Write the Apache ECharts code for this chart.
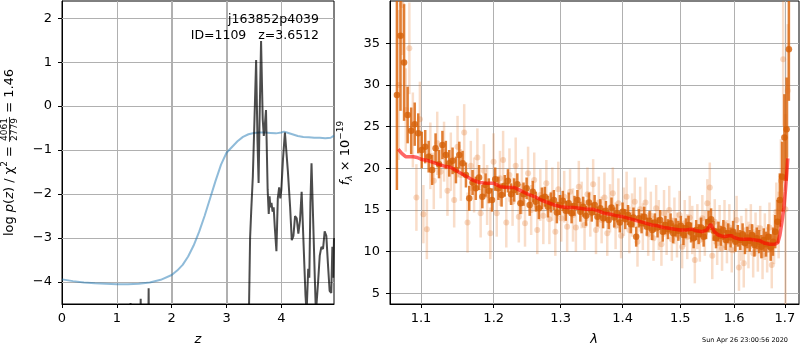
<!DOCTYPE html>
<html>
<head>
<meta charset="utf-8">
<script src="https://cdn.jsdelivr.net/npm/echarts@6/dist/echarts.min.js"></script>
<style>
  html, body { margin: 0; padding: 0; background: #fff; }
  #chart { width: 800px; height: 350px; }
</style>
</head>
<body>
<div id="chart"></div>
<script>
// ---------- left panel: redshift probability ----------
const zTicks = [0, 1, 2, 3, 4];
const logpTicks = [-4, -3, -2, -1, 0, 1, 2];
const Z_RANGE = [0, 4.96];
const LOGP_RANGE = [-4.5, 2.39];

// smooth prior-like curve (blue)
const zBlue = [0, 0.2, 0.4, 0.6, 0.8, 1.0, 1.2, 1.4, 1.6, 1.8,
               2.0, 2.1, 2.2, 2.3, 2.4, 2.5, 2.6, 2.7, 2.8, 2.9,
               3.0, 3.1, 3.2, 3.3, 3.4, 3.5, 3.6, 3.7, 3.8, 3.9,
               4.0, 4.05, 4.1, 4.2, 4.3, 4.4, 4.5, 4.6, 4.7, 4.8,
               4.9, 4.96];
const logpBlue = [-3.94, -3.98, -4.01, -4.03, -4.04, -4.05, -4.05, -4.04, -4.01, -3.95,
                  -3.84, -3.74, -3.61, -3.42, -3.17, -2.86, -2.50, -2.10, -1.70, -1.33,
                  -1.06, -0.93, -0.80, -0.70, -0.64, -0.61, -0.60, -0.60, -0.61, -0.62,
                  -0.60, -0.58, -0.60, -0.64, -0.68, -0.70, -0.71, -0.72, -0.72, -0.73,
                  -0.72, -0.67];

// log p(z) from the fit (black)
const zBlack = [0, 1.22, 1.25, 1.27, 1.41, 1.435, 1.455, 1.56, 1.58, 1.595,
                3.39, 3.41, 3.43, 3.45, 3.48, 3.51, 3.54, 3.565, 3.585, 3.60,
                3.63, 3.66, 3.68, 3.695, 3.72, 3.75, 3.77, 3.785, 3.80, 3.82,
                3.84, 3.86, 3.88, 3.91, 3.935, 3.96, 3.98, 4.00, 4.03, 4.065,
                4.09, 4.12, 4.16, 4.19, 4.22, 4.25, 4.28, 4.31, 4.34, 4.37,
                4.41, 4.44, 4.46, 4.49, 4.51, 4.53, 4.55, 4.58, 4.61, 4.63,
                4.67, 4.70, 4.73, 4.76, 4.79, 4.82, 4.85, 4.88, 4.91, 4.93,
                4.945, 4.96];
const logpBlack = [-7, -7, -4.48, -7, -7, -4.38, -7, -7, -4.14, -7,
                   -7, -4.6, -3.0, -2.4, -1.6, -0.3, 1.05, -0.8, -1.75, -0.5,
                   1.48, -0.3, -0.68, -0.5, -0.09, -1.9, -2.45, -2.05, -2.3, -2.2,
                   -2.4, -2.3, -2.75, -3.3, -2.1, -1.85, -2.1, -1.9, -1.2, -0.6,
                   -0.58, -1.5, -2.3, -3.05, -2.95, -2.5, -2.55, -2.9, -2.6, -1.95,
                   -3.3, -4.3, -4.7, -3.7, -3.9, -2.2, -1.3, -2.6, -3.9, -4.7,
                   -4.0, -3.4, -3.2, -3.25, -2.85, -2.95, -3.6, -4.2, -4.25, -3.2,
                   -3.9, -3.0];

// ---------- right panel: spectrum ----------
const lamTicks = [1.1, 1.2, 1.3, 1.4, 1.5, 1.6, 1.7];
const fluxTicks = [5, 10, 15, 20, 25, 30, 35];

// G141 pixel grids (start wavelength, step in micron)
const LIGHT_START = 1.0710, DARK_START = 1.0688, PIX_STEP = 0.0046;

// unbinned spectrum (faint points)
const fluxLight = [
  30.0, 39.6, 27.0, 34.4, 24.6, 16.5, 25.9, 14.5, 12.7, 21.5,
  18.5, 23.0, 19.6, 22.0, 17.3, 20.8, 16.2, 22.6, 19.2, 24.3,
  13.5, 20.3, 18.0, 21.3, 14.6, 19.7, 16.8, 12.2, 20.8, 14.6,
  18.8, 21.0, 13.5, 19.2, 16.0, 20.3, 14.2, 17.8, 13.4, 19.4,
  15.0, 18.6, 12.6, 16.8, 14.3, 18.2, 13.9, 16.9, 12.4, 17.5,
  14.0, 16.6, 13.0, 17.2, 14.4, 12.9, 17.8, 15.6, 13.2, 16.9,
  14.5, 18.1, 12.6, 15.9, 13.8, 16.5, 12.2, 15.2, 17.0, 13.1,
  15.8, 11.9, 14.8, 16.6, 12.6, 14.4, 16.0, 11.2, 15.1, 13.0,
  15.9, 12.1, 14.3, 11.6, 15.2, 13.2, 10.9, 14.6, 12.3, 15.0,
  11.5, 13.7, 12.0, 14.4, 10.6, 13.4, 11.8, 14.1, 12.6, 9.0,
  13.0, 11.4, 14.0, 12.2, 15.8, 17.7, 9.5, 13.6, 11.0, 12.8,
  10.4, 13.3, 11.2, 12.9, 10.2, 12.4, 13.8, 8.1, 11.6, 8.6,
  12.6, 10.8, 13.0, 9.8, 12.1, 10.4, 12.8, 9.6, 11.8, 10.2,
  12.9, 8.4, 11.5, 14.8, 13.2, 18.5, 33.1, 15.1, 29.3];
const errLight = [
  9.0, 6.0, 5.0, 5.5, 4.5, 4.0, 4.5, 3.5, 3.6, 4.0,
  3.4, 3.8, 3.2, 3.6, 3.0, 3.5, 3.3, 3.7, 3.1, 3.4,
  3.6, 3.0, 3.3, 3.5, 2.9, 3.2, 3.6, 3.1, 3.4, 2.8,
  3.3, 3.5, 3.0, 3.2, 2.9, 3.4, 3.1, 3.3, 2.8, 3.2,
  3.0, 3.3, 2.9, 3.1, 3.4, 2.8, 3.0, 3.2, 2.9, 3.3,
  2.8, 3.1, 3.0, 2.7, 3.2, 2.9, 3.1, 2.8, 3.0, 3.2,
  2.7, 3.0, 2.9, 3.1, 2.8, 3.0, 2.7, 2.9, 3.1, 2.8,
  3.0, 2.7, 2.9, 3.0, 2.8, 2.6, 2.9, 3.0, 2.7, 2.8,
  3.0, 2.6, 2.9, 2.7, 2.8, 3.0, 2.6, 2.8, 2.7, 2.9,
  2.6, 2.8, 2.7, 2.9, 2.6, 2.8, 2.7, 2.6, 2.9, 2.8,
  2.7, 2.6, 2.8, 2.7, 2.9, 3.0, 2.8, 2.7, 2.6, 2.8,
  2.7, 2.9, 2.6, 2.8, 2.7, 2.6, 2.9, 2.8, 2.7, 2.9,
  2.6, 2.8, 2.7, 2.9, 2.6, 2.8, 2.7, 2.9, 2.8, 2.7,
  3.0, 2.8, 3.0, 3.5, 4.0, 5.0, 8.0, 11.4, 8.0];

// binned spectrum (solid points)
const fluxDark = [
  28.8, 35.9, 32.7, 26.4, 24.5, 25.3, 24.2, 22.2, 22.6, 21.4,
  19.8, 22.4, 20.5, 22.8, 21.6, 20.6, 20.9, 19.8, 21.6, 20.6,
  19.2, 16.4, 18.3, 17.6, 18.9, 16.6, 18.0, 17.3, 16.2, 18.7,
  17.6, 16.8, 17.9, 18.5, 16.9, 17.4, 18.1, 15.8, 16.9, 17.6,
  15.6, 17.2, 16.0, 15.2, 16.4, 16.6, 15.4, 15.9, 16.2, 14.7,
  15.6, 16.1, 14.9, 15.8, 14.6, 15.5, 16.2, 14.8, 15.4, 14.3,
  15.9, 14.7, 15.6, 14.2, 15.2, 14.0, 14.9, 13.8, 15.3, 14.1,
  14.6, 13.5, 14.8, 13.9, 14.4, 13.3, 14.1, 11.8, 14.0, 13.4,
  14.2, 13.0, 13.7, 12.6, 13.5, 12.9, 13.8, 12.4, 13.2, 12.7,
  13.4, 12.2, 12.9, 12.5, 13.1, 12.0, 12.8, 13.2, 12.3, 11.6,
  12.6, 12.1, 12.9, 11.8, 12.7, 13.6, 13.9, 12.5, 11.6, 12.4,
  11.9, 12.6, 11.4, 12.2, 11.7, 12.4, 11.2, 11.9, 11.4, 12.1,
  11.0, 11.7, 11.3, 12.0, 10.8, 11.6, 11.2, 10.6, 11.4, 10.9,
  11.8, 10.5, 11.2, 12.4, 13.6, 16.2, 19.0, 23.7, 24.7, 34.3];
const errDark = [
  11.4, 9.0, 7.0, 3.4, 2.8, 2.6, 2.4, 2.2, 2.0, 1.9,
  1.8, 1.8, 1.7, 1.7, 1.7, 1.6, 1.6, 1.6, 1.6, 1.5,
  1.5, 1.5, 1.5, 1.4, 1.5, 1.4, 1.4, 1.5, 1.4, 1.4,
  1.4, 1.4, 1.3, 1.4, 1.3, 1.4, 1.3, 1.3, 1.4, 1.3,
  1.3, 1.3, 1.2, 1.3, 1.3, 1.2, 1.3, 1.2, 1.2, 1.3,
  1.2, 1.2, 1.2, 1.3, 1.2, 1.2, 1.2, 1.2, 1.2, 1.2,
  1.2, 1.1, 1.2, 1.2, 1.1, 1.2, 1.2, 1.1, 1.2, 1.2,
  1.1, 1.2, 1.1, 1.2, 1.2, 1.1, 1.2, 1.2, 1.1, 1.2,
  1.2, 1.1, 1.2, 1.2, 1.1, 1.2, 1.2, 1.2, 1.1, 1.2,
  1.2, 1.2, 1.1, 1.2, 1.2, 1.2, 1.2, 1.1, 1.2, 1.2,
  1.2, 1.2, 1.2, 1.2, 1.2, 1.3, 1.3, 1.2, 1.2, 1.2,
  1.2, 1.2, 1.2, 1.2, 1.2, 1.3, 1.2, 1.3, 1.2, 1.3,
  1.3, 1.3, 1.3, 1.3, 1.4, 1.3, 1.4, 1.4, 1.4, 1.5,
  1.5, 1.6, 1.7, 2.0, 2.6, 3.2, 4.2, 5.2, 6.2, 6.2];

// best-fit model (red)
const modelLam = [1.0705, 1.075, 1.08, 1.085, 1.09, 1.095, 1.10,
  1.11, 1.12, 1.13, 1.14, 1.15, 1.16, 1.17, 1.18, 1.19, 1.20,
  1.21, 1.22, 1.23, 1.24, 1.25, 1.26, 1.27, 1.28, 1.29, 1.30,
  1.31, 1.32, 1.33, 1.34, 1.35, 1.36, 1.37, 1.38, 1.39, 1.40,
  1.41, 1.42, 1.43, 1.44, 1.45, 1.46, 1.47, 1.48, 1.49, 1.50,
  1.51, 1.52, 1.53, 1.54, 1.548, 1.556, 1.562, 1.57, 1.58, 1.59,
  1.595, 1.60, 1.61, 1.62, 1.63, 1.64, 1.65, 1.66, 1.67, 1.68,
  1.686, 1.69, 1.694, 1.698, 1.701, 1.704, 1.706];
const modelFlux = [22.3, 21.8, 21.4, 21.4, 21.4, 21.3, 21.1,
  20.9, 20.6, 20.3, 20.1, 19.6, 19.1, 18.6, 18.3, 18.2, 18.2,
  17.8, 17.7, 17.7, 17.3, 16.9, 16.6, 16.2, 15.9, 15.6, 15.4,
  15.3, 15.3, 15.2, 15.1, 15.1, 14.9, 14.6, 14.5, 14.3, 14.2,
  14.0, 13.8, 13.6, 13.4, 13.2, 13.1, 12.9, 12.8, 12.7, 12.6,
  12.6, 12.7, 12.5, 12.4, 12.6, 13.3, 12.4, 12.0, 11.8, 11.9,
  11.9, 11.7, 11.5, 11.5, 11.5, 11.4, 11.3, 11.0, 10.9, 10.9,
  11.1, 12.0, 13.5, 15.3, 17.2, 19.5, 21.2];

// ---------- helpers ----------
const zip = (a, b) => a.map((v, i) => [v, b[i]]);
const minusFmt = v => (v < 0 ? '\u2212' : '') + Math.abs(v);
const spectrum = (start, flux, err) => flux.map((f, i) => [start + PIX_STEP * i, f, err[i]]);

const lightData = spectrum(LIGHT_START, fluxLight, errLight);
const darkData = spectrum(DARK_START, fluxDark, errDark);

const FAMILY = 'DejaVu Sans';
const GRID_COLOR = '#b0b0b0';
const mctx = document.createElement('canvas').getContext('2d');
function textWidth(str, size, italic) {
  mctx.font = (italic ? 'italic ' : '') + size + 'px "' + FAMILY + '"';
  return mctx.measureText(str).width;
}
function piece(str, x, y, size, italic, align) {
  return {
    type: 'text', x: x, y: y, z: 100,
    style: {
      text: str, fontSize: size, fontFamily: FAMILY,
      fontStyle: italic ? 'italic' : 'normal', fill: '#000',
      textAlign: align || 'left', textVerticalAlign: 'middle',
      align: align || 'left', verticalAlign: 'middle'
    }
  };
}
// lays a row of text pieces (and fractions) left to right
function layoutRow(parts) {
  let x = 0;
  const children = [];
  parts.forEach(p => {
    if (p.num) {
      const w = Math.max(textWidth(p.num, 9), textWidth(p.den, 9)) + 2;
      children.push(piece(p.num, x + w / 2, -5.5, 9, false, 'center'));
      children.push(piece(p.den, x + w / 2, 5, 9, false, 'center'));
      children.push({ type: 'line', z: 100, shape: { x1: x, y1: -0.5, x2: x + w, y2: -0.5 },
                      style: { stroke: '#000', lineWidth: 0.8 } });
      x += w;
    } else {
      const s = p.s || 13;
      children.push(piece(p.t, x, p.dy || 0, s, p.i));
      x += textWidth(p.t, s, p.i);
    }
  });
  return { children, width: x };
}
function verticalLabel(parts, cx, cy) {
  const row = layoutRow(parts);
  return { type: 'group', x: cx, y: cy + row.width / 2, rotation: Math.PI / 2, children: row.children };
}

const leftLabel = verticalLabel([
  { t: 'log ' }, { t: 'p', i: true }, { t: '(' }, { t: 'z', i: true }, { t: ') / \u03c7' },
  { t: '2', s: 9, dy: -5 }, { t: ' = ' }, { num: '4061', den: '2779' }, { t: ' = 1.46' }
], 10, 152.5);

const rightLabel = verticalLabel([
  { t: 'f', i: true }, { t: '\u03bb', s: 9, dy: 4, i: true }, { t: ' \u00d7 10' },
  { t: '\u221219', s: 9, dy: -5 }
], 346, 153);

// ---------- axes ----------
const labelStyle = () => ({ color: '#000', fontSize: 13, fontFamily: FAMILY });
function makeAxis(extra, ticks, margin, formatter) {
  return Object.assign({
    axisLine: { show: true, onZero: false, lineStyle: { color: '#000', width: 1 } },
    axisTick: { show: true, length: 4, customValues: ticks, lineStyle: { color: '#000' } },
    axisLabel: Object.assign({ customValues: ticks, margin: margin, formatter: formatter }, labelStyle()),
    splitLine: { show: true, lineStyle: { color: GRID_COLOR, width: 1 } }
  }, extra);
}

function errorBars(data, color, width) {
  return {
    type: 'custom', xAxisIndex: 1, yAxisIndex: 1, clip: true, silent: true,
    data: data, encode: { x: 0, y: 1 },
    renderItem: (params, api) => {
      const x = api.value(0), y = api.value(1), e = api.value(2);
      const p1 = api.coord([x, y - e]);
      const p2 = api.coord([x, y + e]);
      return { type: 'line', shape: { x1: p1[0], y1: p1[1], x2: p2[0], y2: p2[1] },
               style: { stroke: color, lineWidth: width } };
    }
  };
}

const chart = echarts.init(document.getElementById('chart'), null, { renderer: 'canvas' });
chart.setOption({
  animation: false,
  backgroundColor: '#fff',
  grid: [
    { left: 62, top: 1, width: 272, height: 303, show: true, borderColor: '#000', borderWidth: 1, backgroundColor: 'transparent' },
    { left: 390, top: 1, width: 409, height: 303, show: true, borderColor: '#000', borderWidth: 1, backgroundColor: 'transparent' }
  ],
  xAxis: [
    makeAxis({ gridIndex: 0, type: 'value', min: Z_RANGE[0], max: Z_RANGE[1] }, zTicks, 8, minusFmt),
    makeAxis({ gridIndex: 1, type: 'log', logBase: 10, min: 1.06, max: 1.729 }, lamTicks, 8, v => Number(v).toFixed(1))
  ],
  yAxis: [
    makeAxis({ gridIndex: 0, type: 'value', min: LOGP_RANGE[0], max: LOGP_RANGE[1] }, logpTicks, 10, minusFmt),
    makeAxis({ gridIndex: 1, type: 'value', min: 3.72, max: 40.08 }, fluxTicks, 10, v => String(v))
  ],
  series: [
    { type: 'line', xAxisIndex: 0, yAxisIndex: 0, data: zip(zBlue, logpBlue), showSymbol: false, z: 60,
      lineStyle: { color: '#1f77b4', opacity: 0.5, width: 2 }, clip: true, silent: true },
    { type: 'line', xAxisIndex: 0, yAxisIndex: 0, data: zip(zBlack, logpBlack), showSymbol: false, z: 61,
      lineStyle: { color: '#000', opacity: 0.7, width: 2 }, clip: true, silent: true },

    errorBars(lightData, 'rgba(230,120,40,0.25)', 2.5),
    { type: 'scatter', xAxisIndex: 1, yAxisIndex: 1, data: lightData.map(d => [d[0], d[1]]),
      symbol: 'circle', symbolSize: 6, itemStyle: { color: 'rgba(225,110,30,0.33)' }, clip: true, silent: true },
    errorBars(darkData, 'rgba(217,95,2,0.8)', 2.5),
    { type: 'scatter', xAxisIndex: 1, yAxisIndex: 1, data: darkData.map(d => [d[0], d[1]]),
      symbol: 'circle', symbolSize: 6.5, itemStyle: { color: '#d45f06' }, clip: true, silent: true },
    { type: 'line', xAxisIndex: 1, yAxisIndex: 1, data: zip(modelLam, modelFlux), showSymbol: false,
      lineStyle: { color: '#ff0000', opacity: 0.6, width: 3.5 }, clip: true, silent: true }
  ]
});

// grid lines of the p(z) panel, placed on its tick values through the panel's own axes
const pzAxes = { xAxisIndex: 0, yAxisIndex: 0 };
const pzCornerTL = chart.convertToPixel(pzAxes, [Z_RANGE[0], LOGP_RANGE[1]]);
const pzCornerBR = chart.convertToPixel(pzAxes, [Z_RANGE[1], LOGP_RANGE[0]]);
const crisp = v => Math.round(v) + 0.5;
const gridStyle = { stroke: GRID_COLOR, lineWidth: 1 };
const pzGrid = zTicks.filter(v => v > Z_RANGE[0]).map(v => {
  const gx = crisp(chart.convertToPixel(pzAxes, [v, 0])[0]);
  return { type: 'line', z: 50, silent: true,
           shape: { x1: gx, y1: pzCornerTL[1], x2: gx, y2: pzCornerBR[1] }, style: gridStyle };
}).concat(logpTicks.map(v => {
  const gy = crisp(chart.convertToPixel(pzAxes, [0, v])[1]);
  return { type: 'line', z: 50, silent: true,
           shape: { x1: pzCornerTL[0], y1: gy, x2: pzCornerBR[0], y2: gy }, style: gridStyle };
}));

chart.setOption({
  graphic: pzGrid.concat([
    piece('j163852p4039', 319, 20, 12.5, false, 'right'),
    piece('ID=1109   z=3.6512', 319, 36, 12.5, false, 'right'),
    leftLabel,
    rightLabel,
    piece('z', 198, 340, 13, true, 'center'),
    piece('\u03bb', 594, 340, 13, true, 'center'),
    piece('Sun Apr 26 23:00:56 2020', 788, 340, 6.5, false, 'right')
  ])
});
</script>
</body>
</html>
